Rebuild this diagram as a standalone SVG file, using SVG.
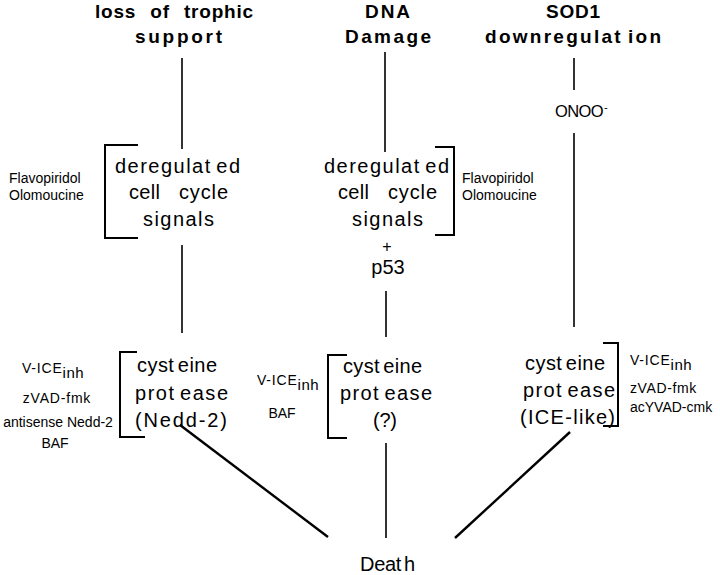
<svg xmlns="http://www.w3.org/2000/svg" width="720" height="575" viewBox="0 0 720 575">
<style>
text{font-family:"Liberation Sans",Arial,sans-serif;fill:#000}
.t{font-size:19px;font-weight:bold}
.b{font-size:20px}
.w{word-spacing:-2.5px}
.s{font-size:14px}
.sub{font-size:15px}
.ln{stroke:#000;stroke-width:1.6;fill:none}
.dg{stroke:#000;stroke-width:2.4;fill:none}
.br{stroke:#000;stroke-width:2;fill:none}
</style>
<rect width="720" height="575" fill="#fff"/>
<g id="title-trophic">
<text class="t" x="95" y="18" letter-spacing="0.8" word-spacing="8">loss of trophic</text>
<text class="t" x="135" y="43" textLength="87" lengthAdjust="spacing">support</text>
</g>
<g id="title-dna">
<text class="t" x="365" y="18" textLength="45" lengthAdjust="spacing">DNA</text>
<text class="t" x="345" y="43" textLength="86" lengthAdjust="spacing">Damage</text>
</g>
<g id="title-sod1">
<text class="t" x="546" y="18" textLength="54" lengthAdjust="spacing">SOD1</text>
<text class="t w" x="485" y="43" textLength="176" lengthAdjust="spacing">downregulat ion</text>
</g>
<g id="onoo">
<text x="555" y="117" font-size="16.5" letter-spacing="-0.6">ONOO<tspan font-size="11" dx="1" dy="-6">-</tspan></text>
</g>
<g id="cellcycle-left">
<path class="br" d="M138,145 H105 V238 H138"/>
<text class="b w" x="115" y="173" textLength="125" lengthAdjust="spacing">deregulat ed</text>
<text class="b" x="129" y="199" textLength="31" lengthAdjust="spacing">cell</text>
<text class="b" x="179" y="199" textLength="49" lengthAdjust="spacing">cycle</text>
<text class="b" x="143" y="226" textLength="71" lengthAdjust="spacing">signals</text>
<text class="s" x="9" y="183">Flavopiridol</text>
<text class="s" x="9" y="200">Olomoucine</text>
</g>
<g id="cellcycle-middle">
<path class="br" d="M435,147 H454 V235 H435"/>
<text class="b w" x="324" y="173" textLength="125" lengthAdjust="spacing">deregulat ed</text>
<text class="b" x="338" y="199" textLength="31" lengthAdjust="spacing">cell</text>
<text class="b" x="388" y="199" textLength="49" lengthAdjust="spacing">cycle</text>
<text class="b" x="352" y="226" textLength="71" lengthAdjust="spacing">signals</text>
<text class="s" x="462" y="183">Flavopiridol</text>
<text class="s" x="462" y="200">Olomoucine</text>
<text x="387" y="252" font-size="16" text-anchor="middle">+</text>
<text class="b" x="388" y="274" text-anchor="middle">p53</text>
</g>
<g id="protease-left">
<path class="br" d="M137,352 H120 V437 H145"/>
<text class="b w" x="137" y="372" textLength="80" lengthAdjust="spacing">cyst eine</text>
<text class="b w" x="135" y="400" textLength="93" lengthAdjust="spacing">prot ease</text>
<text class="b" x="135" y="427" textLength="92" lengthAdjust="spacing">(Nedd-2)</text>
<text class="s" x="22" y="373" letter-spacing="0.8">V-ICE<tspan class="sub" dy="5" letter-spacing="0.5">inh</tspan></text>
<text class="s" x="57" y="403" text-anchor="middle" letter-spacing="0.8">zVAD-fmk</text>
<text class="s" x="58" y="427" text-anchor="middle">antisense Nedd-2</text>
<text class="s" x="55" y="448" text-anchor="middle">BAF</text>
</g>
<g id="protease-middle">
<path class="br" d="M347,355 H328 V438 H347"/>
<text class="b w" x="343" y="373" textLength="79" lengthAdjust="spacing">cyst eine</text>
<text class="b w" x="340" y="400" textLength="92" lengthAdjust="spacing">prot ease</text>
<text class="b" x="373" y="427" textLength="24" lengthAdjust="spacing">(?)</text>
<text class="s" x="257" y="385" letter-spacing="0.8">V-ICE<tspan class="sub" dy="5" letter-spacing="0.5">inh</tspan></text>
<text class="s" x="282" y="418" text-anchor="middle">BAF</text>
</g>
<g id="protease-right">
<path class="br" d="M603,343 H618 V426 H603"/>
<text class="b w" x="525" y="370" textLength="80" lengthAdjust="spacing">cyst eine</text>
<text class="b w" x="523" y="397" textLength="92" lengthAdjust="spacing">prot ease</text>
<text class="b" x="520" y="424" textLength="95" lengthAdjust="spacing">(ICE-like)</text>
<text class="s" x="630" y="365" letter-spacing="0.8">V-ICE<tspan class="sub" dy="5" letter-spacing="0.5">inh</tspan></text>
<text class="s" x="630" y="393" letter-spacing="0.6">zVAD-fmk</text>
<text class="s" x="630" y="412">acYVAD-cmk</text>
</g>
<g id="death">
<text class="b w" x="360" y="571" textLength="55" lengthAdjust="spacing">Deat h</text>
</g>
<g id="connectors">
<line class="ln" x1="182" y1="58" x2="182" y2="149"/>
<line class="ln" x1="182" y1="245" x2="182" y2="333"/>
<line class="ln" x1="385" y1="52" x2="385" y2="152"/>
<line class="ln" x1="386" y1="291" x2="386" y2="337"/>
<line class="ln" x1="386" y1="443" x2="386" y2="538"/>
<line class="ln" x1="574" y1="58" x2="574" y2="90"/>
<line class="ln" x1="574" y1="133" x2="574" y2="327"/>
<line class="dg" x1="180" y1="425" x2="328" y2="537"/>
<line class="dg" x1="570" y1="432" x2="455" y2="538"/>
</g>
</svg>
